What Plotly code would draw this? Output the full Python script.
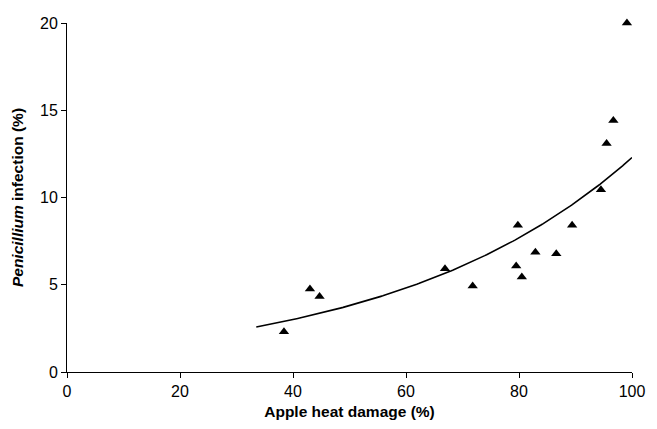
import numpy as np
import plotly.graph_objects as go

# Data
heat_damage = [38.4, 43.0, 44.7, 66.9, 71.8, 79.5, 79.8, 80.5, 82.9, 86.6, 89.4, 94.5, 95.5, 96.7, 99.1]
infection = [2.3, 4.75, 4.32, 5.91, 4.93, 6.08, 8.41, 5.45, 6.86, 6.78, 8.41, 10.44, 13.09, 14.41, 20.0]

x_ticks = [0, 20, 40, 60, 80, 100]
y_ticks = [0, 5, 10, 15, 20]
trend_range = [33.5, 100]

# Exponential trendline (least squares on log y, as in spreadsheet trendlines)
b, ln_a = np.polyfit(heat_damage, np.log(infection), 1)
tx = np.linspace(trend_range[0], trend_range[1], 200)
ty = np.exp(ln_a) * np.exp(b * tx)

font_family = "Liberation Sans, Arial, sans-serif"

fig = go.Figure()
fig.add_trace(go.Scatter(x=tx, y=ty, mode="lines",
                         line=dict(color="black", width=1.6),
                         hoverinfo="skip", showlegend=False))
fig.add_trace(go.Scatter(x=heat_damage, y=infection, mode="markers",
                         marker=dict(symbol="triangle-up", size=9, color="black"),
                         cliponaxis=False, showlegend=False))

fig.update_layout(
    width=657, height=429,
    margin=dict(l=67, r=18, t=23, b=53),
    plot_bgcolor="white", paper_bgcolor="white",
    font=dict(family=font_family, size=16, color="black"),
    xaxis=dict(range=[0, 100], tickvals=x_ticks, ticks="outside", ticklen=5,
               tickcolor="black", showline=True, linecolor="black", linewidth=1,
               showgrid=False, zeroline=False,
               title=dict(text="<b>Apple heat damage (%)</b>", standoff=6,
                          font=dict(size=15.5))),
    yaxis=dict(range=[0, 20], tickvals=y_ticks, ticks="outside", ticklen=5,
               tickcolor="black", showline=True, linecolor="black", linewidth=1,
               showgrid=False, zeroline=False,
               title=dict(text="<b><i>Penicillium</i> infection (%)</b>", standoff=12,
                          font=dict(size=15.5))),
)

fig.write_html("out.html")
